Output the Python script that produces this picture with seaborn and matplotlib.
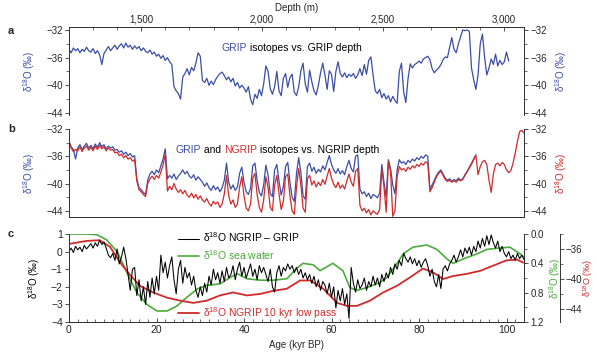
import numpy as np
import matplotlib
matplotlib.use('Agg')
import matplotlib.pyplot as plt
from matplotlib.ticker import MultipleLocator, FuncFormatter
import seaborn as sns

step = 0.5

# a: GRIP isotopes vs GRIP depth
grip_a = [
    -34.8, -35.3, -34.6, -35.0, -34.7, -35.3, -34.8, -35.1, -34.5, -35.0,
    -35.2, -34.7, -35.4, -35.0, -35.6, -37.0, -35.4, -34.9, -34.4, -35.0,
    -34.6, -34.2, -34.8, -34.3, -34.0, -34.6, -33.9, -34.5, -34.2, -34.8,
    -34.3, -34.7, -34.4, -35.0, -34.6, -35.1, -35.3, -34.9, -35.5, -35.2,
    -35.8, -35.5, -36.1, -35.7, -36.4, -36.0, -36.6, -37.0, -40.2, -40.8,
    -41.2, -42.0, -38.8, -38.3, -37.6, -38.5, -37.4, -37.9, -36.8, -35.3,
    -35.8, -39.3, -39.6, -39.0, -40.0, -39.4, -39.9, -39.2, -38.7, -38.3,
    -38.1, -38.6, -39.2, -38.8, -39.5, -39.0, -40.1, -39.6, -40.4, -40.0,
    -40.4, -41.0, -40.2, -42.0, -42.8, -41.3, -41.9, -40.6, -41.5, -39.8,
    -37.2, -38.0, -40.5, -41.3, -40.2, -38.0, -40.8, -41.5, -39.0, -38.3,
    -40.3, -38.9, -38.4, -41.0, -41.5, -40.2, -37.9, -36.8, -39.8, -41.0,
    -37.8, -39.5, -40.8, -41.4, -40.0, -38.2, -36.8, -38.5, -40.6, -37.9,
    -38.4, -40.9, -38.0, -36.6, -38.3, -38.8, -38.2, -38.9, -38.4, -38.7,
    -38.3, -39.0, -38.5, -37.6, -38.6, -37.0, -38.4, -36.4, -35.9, -38.5,
    -40.8, -41.2, -40.6, -41.8, -41.2, -42.0, -41.5, -42.4, -41.6, -42.2,
    -42.6, -38.0, -36.8, -41.0, -42.5, -39.0, -36.9, -37.5, -37.0, -36.8,
    -36.5, -36.8, -36.2, -36.0, -35.8, -36.3, -37.6, -38.2, -37.8, -37.5,
    -37.0, -36.3, -35.9, -36.0, -34.5, -33.1, -34.8, -35.3, -34.0, -33.0,
    -32.0, -32.1, -32.0, -32.2, -37.5, -39.2, -40.6, -38.5, -34.0, -32.6,
    -36.0, -38.5, -37.5, -36.2, -37.0, -35.5, -37.2, -36.4, -37.0, -36.6,
    -35.2, -36.5,
]

# b: GRIP and NGRIP isotopes vs NGRIP depth
grip_b = [
    -33.9, -34.6, -35.0, -36.4, -34.8, -34.3, -35.0, -34.5, -34.1, -34.8,
    -34.4, -34.9, -34.2, -34.7, -34.0, -34.6, -34.3, -34.9, -34.5, -34.8,
    -34.6, -35.1, -35.0, -35.4, -35.2, -35.7, -35.4, -35.9, -35.6, -36.1,
    -35.9, -39.3, -40.6, -40.9, -41.3, -41.6, -39.5, -38.6, -38.2, -38.7,
    -38.0, -38.4, -37.4, -36.4, -34.9, -39.3, -38.8, -39.2, -38.6, -39.4,
    -38.9, -38.5, -38.0, -38.6, -38.2, -38.9, -39.2, -38.7, -39.5, -39.0,
    -39.4, -39.8, -40.4, -39.9, -40.6, -41.0, -40.3, -40.9, -40.5, -41.2,
    -40.6, -39.5, -37.0, -39.8, -40.8, -40.2, -41.0, -40.5, -38.5, -37.6,
    -39.8, -41.2, -41.6, -40.7, -37.4, -37.0, -39.5, -41.3, -41.8, -40.2,
    -37.3, -38.8, -41.5, -41.9, -38.0, -37.2, -39.6, -41.7, -40.4, -37.5,
    -36.9, -39.8, -42.0, -42.6, -38.5, -36.2, -38.4, -41.8, -42.3, -37.5,
    -37.0, -38.2, -37.6, -38.5, -37.9, -38.3, -37.4, -38.0, -36.9, -35.9,
    -37.2, -38.0, -38.5, -37.8, -38.6, -38.1, -38.7, -37.5, -36.6, -37.8,
    -38.3, -36.0, -35.8, -40.8, -41.5, -41.2, -41.9, -41.4, -42.2, -41.6,
    -41.8, -42.1, -41.4, -37.2, -39.8, -42.0, -36.5, -37.8, -40.2, -41.5,
    -38.0, -36.5, -37.0, -36.8, -37.2, -36.6, -36.9, -36.4, -36.7, -36.2,
    -36.5, -36.0, -36.3, -35.8, -36.0, -40.8, -40.2, -39.5, -38.8, -38.3,
    -38.0, -38.6, -39.2, -39.5, -39.3, -39.7, -39.4, -39.6, -39.2, -39.5,
    -39.3, -38.7, -38.2, -37.6, -37.0, -36.4, -35.8,
]
ngrip_b = [
    -33.8, -34.8, -35.3, -35.0, -35.2, -34.6, -35.3, -34.8, -34.5, -35.1,
    -34.7, -35.2, -34.5, -35.0, -34.4, -34.9, -34.6, -35.2, -34.8, -35.1,
    -35.0, -35.5, -35.4, -35.9, -35.7, -36.2, -35.9, -36.4, -36.2, -36.7,
    -36.5, -39.6, -40.9, -41.2, -41.6, -41.9, -40.0, -39.3, -38.9, -39.4,
    -38.8, -39.2, -38.3, -37.3, -35.7, -41.1, -40.4, -40.9, -40.0, -40.8,
    -41.3, -40.9, -41.5, -41.0, -41.7, -42.0, -41.4, -42.1, -41.6, -42.3,
    -41.8, -42.4, -42.7, -42.2, -42.9, -43.3, -42.6, -43.0, -42.7, -43.5,
    -43.0, -41.5, -38.8, -41.8, -43.0, -42.4, -43.5, -43.0, -40.5, -39.0,
    -41.8, -43.6, -44.0, -43.0, -39.2, -38.5, -41.6, -43.5, -44.2, -42.4,
    -39.0, -40.6, -43.5, -44.0, -40.2, -38.8, -41.5, -43.8, -42.6, -39.0,
    -38.6, -41.8, -44.0, -44.5, -40.5, -37.8, -40.2, -43.6, -44.2, -39.3,
    -38.8, -40.2, -39.6, -40.5, -39.8, -40.3, -39.4, -40.1, -38.9, -37.8,
    -39.2, -40.1, -40.6, -39.8, -40.7, -40.2, -40.8, -39.6, -38.6, -39.8,
    -40.4, -38.2, -37.8, -43.2, -44.0, -43.6, -44.3, -43.8, -44.6, -44.0,
    -44.3, -44.5, -43.8, -37.8, -40.5, -44.2, -36.8, -38.2, -44.8, -44.0,
    -39.0, -37.5, -38.0, -37.8, -38.2, -37.6, -37.9, -37.4, -37.7, -37.2,
    -37.5, -37.0, -37.3, -36.8, -37.0, -41.2, -40.6, -39.8, -39.0, -38.5,
    -38.2, -38.8, -39.4, -39.7, -39.5, -39.8, -39.6, -39.8, -39.4, -39.6,
    -39.4, -38.8, -38.3, -37.7, -37.2, -36.5, -35.9, -38.7, -37.5, -36.8,
    -36.6, -37.2, -39.5, -41.3, -38.6, -37.2, -37.0, -37.4, -36.9, -37.2,
    -38.0, -38.4, -38.1, -37.0, -35.5, -33.8, -32.4, -32.2, -32.6,
]

# c: NGRIP - GRIP difference, sea water, NGRIP low pass
diff_c = [
    0.0, 0.2, -0.05, 0.3, 0.1, 0.25, 0.0, 0.35, 0.15, 0.3,
    0.45, 0.2, 0.5, 0.3, 0.65, 0.4, 0.55, 0.2, -0.2, -0.35,
    -0.1, -0.5, 0.15, -0.7, -0.3, 0.25, -0.4, -1.3, -2.2, -1.0,
    -0.9, -2.5, -1.6, -2.8, -2.0, -3.0, -1.7, -2.6, -1.5, -2.4,
    -1.4, -2.2, -0.2, -1.2, -0.6, -1.5, -0.8, -0.3, -1.6, -2.4,
    -1.0, -0.5, -1.8, -0.9, -1.5, -1.2, -1.9, -1.4, -2.2, -2.6,
    -2.0, -2.5, -1.8, -2.3, -1.4, -1.9, -1.0, -1.6, -1.2, -1.8,
    -1.1, -1.7, -0.9, -1.5, -1.3, -0.8, -1.6, -1.0, -0.6, -1.4,
    -0.9, -1.5, -1.1, -0.7, -1.4, -1.0, -1.6, -0.8, -1.2, -0.9,
    -1.3, -1.7, -1.0, -2.0, -2.3, -1.2, -0.8, -1.4, -0.9, -1.1,
    -0.7, -1.0, -0.8, -1.2, -0.9, -1.3, -1.0, -1.5, -1.2, -1.6,
    -1.3, -1.8, -1.4, -2.0, -1.6, -2.2, -1.7, -1.9, -2.4, -1.8,
    -2.6, -2.0, -3.2, -2.2, -2.8, -2.1, -3.0, -2.4, -3.8, -0.9,
    -1.8, -2.3, -1.6, -2.1, -1.9, -1.5, -2.2, -1.7, -2.0, -1.4,
    -1.9, -1.5, -2.0, -1.3, -1.7, -1.2, -1.5, -0.9, -1.3, -0.7,
    -1.0, -0.5, -0.8, -0.1, -0.4, -0.6, -0.3, -0.7, -0.4, -0.8,
    -0.5, -0.9, -0.6, -0.4, -0.8, -1.4, -1.0, -1.7, -2.0, -1.3,
    -2.1, -1.0, -0.8, -1.1, -0.7, -0.5, -0.2, -0.6, -0.3, 0.1,
    -0.3, 0.2, -0.1, 0.25, -0.2, 0.3, 0.0, 0.6, 0.2, 0.75,
    0.3, 0.9, 0.4, 0.95, 0.5, 0.2, 0.6, 0.0, 0.3, -0.1,
    -0.3, 0.0, -0.4, -0.2, -0.5, -0.1, -0.4, -0.2, -0.45,
]
sea_age = [0, 2, 4, 6.4, 8.6, 11, 13.2, 15.5, 17.8, 20.1, 22.4, 24.7, 27, 29.3,
           31.5, 34.5, 37.5, 38.5, 40.7, 43.7, 46.6, 49.8, 52, 53.5, 55.8,
           57.4, 60.3, 62.6, 64.2, 65.8, 68.1, 71.1, 72.7, 75, 76.4, 78.6,
           81.8, 84.1, 86.4, 87.8, 90.1, 93.3, 95.5, 98.5, 100.8, 103.1, 104]
sea_d18o = [0.0, 0.0, 0.0, 0.01, 0.08, 0.24, 0.52, 0.80, 0.96, 1.05, 1.05, 0.98,
            0.86, 0.75, 0.70, 0.68, 0.57, 0.54, 0.61, 0.63, 0.63, 0.61, 0.47,
            0.40, 0.42, 0.50, 0.40, 0.50, 0.73, 0.77, 0.73, 0.66, 0.59, 0.40,
            0.27, 0.18, 0.15, 0.21, 0.34, 0.40, 0.34, 0.27, 0.21, 0.19, 0.18,
            0.27, 0.32]
lp_age = [0, 4, 7, 9.4, 11.7, 14, 16.2, 19.2, 22.4, 25.4, 28.4, 31.5, 34.5,
          37.5, 40.7, 43.7, 46.6, 49.8, 52.8, 55.1, 58.1, 61.3, 63.5, 65.8,
          68.8, 71.8, 75, 77.9, 80.9, 83.2, 85.5, 87.8, 91, 94, 97, 100,
          102.4, 103.8]
lp_d18o = [-35.3, -34.9, -34.8, -35.7, -37.8, -39.5, -40.9, -41.8, -42.5, -42.9,
           -43.2, -42.9, -42.2, -41.8, -42.2, -42.0, -41.6, -41.3, -40.2, -40.2,
           -41.3, -43.2, -43.6, -43.6, -42.9, -41.8, -40.9, -39.8, -38.6, -39.1,
           -40.0, -39.6, -39.3, -38.9, -38.2, -37.5, -37.4, -37.8]

depth_ticks = [1500, 2000, 2500, 3000]

BLUE = '#3b4ea6'
RED = '#d12a2a'
GREEN = '#4bab3c'
GREY = '#333333'

sns.set_style('ticks')
plt.rcParams['font.family'] = ['Liberation Sans', 'DejaVu Sans']
plt.rcParams['mathtext.fontset'] = 'custom'
plt.rcParams['mathtext.rm'] = 'Liberation Sans'
plt.rcParams['mathtext.it'] = 'Liberation Sans:italic'
plt.rcParams['axes.edgecolor'] = GREY
plt.rcParams['axes.linewidth'] = 0.7
FS = 7
D18O = 'δ$^{18}$O'
LBL = D18O + ' (‰)'

fig = plt.figure(figsize=(5.97, 3.53), dpi=100)
L, W, H = 69 / 597, 455 / 597, 88 / 353
ax_a = fig.add_axes([L, 1 - 115 / 353, W, H])
ax_b = fig.add_axes([L, 1 - 217 / 353, W, H])
ax_c = fig.add_axes([L, 1 - 322 / 353, W, H])


def style_y(ax, major, minor):
    ax.yaxis.set_major_locator(MultipleLocator(major))
    ax.yaxis.set_minor_locator(MultipleLocator(minor))
    ax.tick_params(axis='y', which='major', length=3, width=0.6, labelsize=FS, pad=1.5,
                   color=GREY)
    ax.tick_params(axis='y', which='minor', length=2, width=0.5, color=GREY)


def colored_text(ax, x, y, parts):
    t = ax.text(x, y, parts[0][0], color=parts[0][1], fontsize=7.5,
                transform=ax.transAxes, va='bottom')
    for s, c in parts[1:]:
        t = ax.annotate(s, xy=(1, 0), xycoords=t, color=c, fontsize=7.5,
                        va='bottom', ha='left')


# ---- panel a ----
sns.lineplot(x=np.arange(len(grip_a)) * step, y=grip_a, ax=ax_a, color=BLUE,
             lw=0.9, estimator=None, sort=False)
ax_a.set_xlim(0, 104)
ax_a.set_ylim(-44.3, -31.57)
ax_a.spines['bottom'].set_visible(False)
ax_a.set_xticks([])
style_y(ax_a, 4, 2)
ax_a.set_ylabel(LBL, color=BLUE, fontsize=FS)
ax_a.yaxis.set_label_coords(-0.07, 0.5)
ax_a2 = ax_a.twinx()
ax_a2.set_ylim(ax_a.get_ylim())
style_y(ax_a2, 4, 2)
ax_a2.spines['bottom'].set_visible(False)
ax_a2.set_ylabel(LBL, color=BLUE, fontsize=FS, rotation=90)
ax_a2.yaxis.set_label_coords(1.064, 0.5)
ax_top = ax_a.twiny()
ax_top.set_xlim(1202, 3083)
ax_top.spines['bottom'].set_visible(False)
ax_top.set_xticks(depth_ticks)
ax_top.xaxis.set_minor_locator(MultipleLocator(100))
ax_top.xaxis.set_major_formatter(FuncFormatter(lambda v, p: f'{int(v):,}'))
ax_top.tick_params(axis='x', which='major', direction='in', length=3, width=0.6,
                   labelsize=FS, pad=1.5, color=GREY)
ax_top.tick_params(axis='x', which='minor', direction='in', length=2, width=0.5, color=GREY)
ax_top.set_xlabel('Depth (m)', fontsize=FS, labelpad=3)
colored_text(ax_a, 0.336, 0.70, [('GRIP', BLUE), (' isotopes vs. GRIP depth', 'black')])

# ---- panel b ----
sns.lineplot(x=np.arange(len(grip_b)) * step, y=grip_b, ax=ax_b, color=BLUE,
             lw=0.9, estimator=None, sort=False)
sns.lineplot(x=np.arange(len(ngrip_b)) * step, y=ngrip_b, ax=ax_b, color=RED,
             lw=0.9, estimator=None, sort=False)
ax_b.set_xlim(0, 104)
ax_b.set_ylim(-44.9, -32)
ax_b.spines['top'].set_visible(False)
ax_b.set_xticks([])
style_y(ax_b, 4, 2)
ax_b.set_ylabel(LBL, color=BLUE, fontsize=FS)
ax_b.yaxis.set_label_coords(-0.07, 0.5)
ax_b2 = ax_b.twinx()
ax_b2.set_ylim(ax_b.get_ylim())
ax_b2.spines['top'].set_visible(False)
style_y(ax_b2, 4, 2)
ax_b2.set_ylabel(LBL, color=RED, fontsize=FS, rotation=90)
ax_b2.yaxis.set_label_coords(1.064, 0.5)
colored_text(ax_b, 0.235, 0.70, [('GRIP', BLUE), (' and ', 'black'), ('NGRIP', RED),
                                 (' isotopes vs. NGRIP depth', 'black')])

# ---- panel c ----
axg = ax_c.twinx()
axr = ax_c.twinx()
sns.lineplot(x=lp_age, y=lp_d18o, ax=axr, color=RED, lw=1.3, estimator=None, sort=False)
sns.lineplot(x=sea_age, y=sea_d18o, ax=axg, color=GREEN, lw=1.2, estimator=None, sort=False)
sns.lineplot(x=np.arange(len(diff_c)) * step, y=diff_c, ax=ax_c, color='black',
             lw=0.75, estimator=None, sort=False)
ax_c.set_zorder(3)
ax_c.patch.set_visible(False)
ax_c.set_xlim(0, 104)
ax_c.set_ylim(-4, 1)
ax_c.spines['top'].set_visible(False)
ax_c.xaxis.set_major_locator(MultipleLocator(20))
ax_c.xaxis.set_minor_locator(MultipleLocator(2))
ax_c.tick_params(axis='x', which='major', direction='in', length=3, width=0.6,
                 labelsize=FS + 0.5, pad=2, color=GREY)
ax_c.tick_params(axis='x', which='minor', direction='in', length=2, width=0.5, color=GREY)
ax_c.yaxis.set_major_locator(MultipleLocator(1))
ax_c.tick_params(axis='y', length=3, width=0.6, labelsize=FS + 0.5, pad=1.5, color=GREY)
ax_c.set_ylabel(LBL, color='black', fontsize=FS)
ax_c.yaxis.set_label_coords(-0.059, 0.5)
ax_c.set_xlabel('Age (kyr BP)', fontsize=FS, labelpad=4)

axg.set_ylim(1.2, 0.0)
axg.spines['top'].set_visible(False)
axg.yaxis.set_major_locator(MultipleLocator(0.4))
axg.yaxis.set_minor_locator(MultipleLocator(0.2))
axg.yaxis.set_major_formatter(FuncFormatter(lambda v, p: f'{v:.1f}'))
axg.tick_params(axis='y', which='major', length=3, width=0.6, labelsize=FS, pad=1.5, color=GREY)
axg.tick_params(axis='y', which='minor', length=2, width=0.5, color=GREY)
axg.set_ylabel(LBL, color=GREEN, fontsize=FS, rotation=90)
axg.yaxis.set_label_coords(1.05, 0.5)

axr.set_ylim(-45.76, -33.97)
axr.spines['right'].set_position(('axes', 1.08))
for s in ('top', 'left', 'bottom'):
    axr.spines[s].set_visible(False)
axr.yaxis.set_major_locator(MultipleLocator(4))
axr.yaxis.set_minor_locator(MultipleLocator(2))
axr.tick_params(axis='y', which='major', length=3, width=0.6, labelsize=FS, pad=0.8, color=GREY)
axr.tick_params(axis='y', which='minor', length=2, width=0.5, color=GREY)
# red axis title placed in figure coordinates so it stays inside the canvas
fig.text(588 / 597, 1 - 278 / 353, LBL, color=RED, fontsize=6.5, rotation=90,
         ha='center', va='center')

h_black = ax_c.lines[0]
h_green = axg.lines[0]
h_red = axr.lines[0]
leg1 = ax_c.legend([h_black, h_green], [D18O + ' NGRIP – GRIP', D18O + ' sea water'],
                   loc='upper left', bbox_to_anchor=(0.24, 1.04), frameon=False,
                   fontsize=7.5, handlelength=2.0, handletextpad=0.4, borderpad=0,
                   borderaxespad=0, labelspacing=0.35, labelcolor='linecolor')
ax_c.add_artist(leg1)
ax_c.legend([h_red], [D18O + ' NGRIP 10 kyr low pass'], loc='center left',
            bbox_to_anchor=(0.24, 0.10), frameon=False, fontsize=7.5,
            handlelength=2.0, handletextpad=0.4, borderpad=0, borderaxespad=0,
            labelcolor='linecolor')

# panel letters
for letter, py in (('a', 31), ('b', 129), ('c', 234)):
    fig.text(8 / 597, 1 - py / 353, letter, fontsize=8, fontweight='bold', va='center')

fig.savefig('out.png', dpi=100)
